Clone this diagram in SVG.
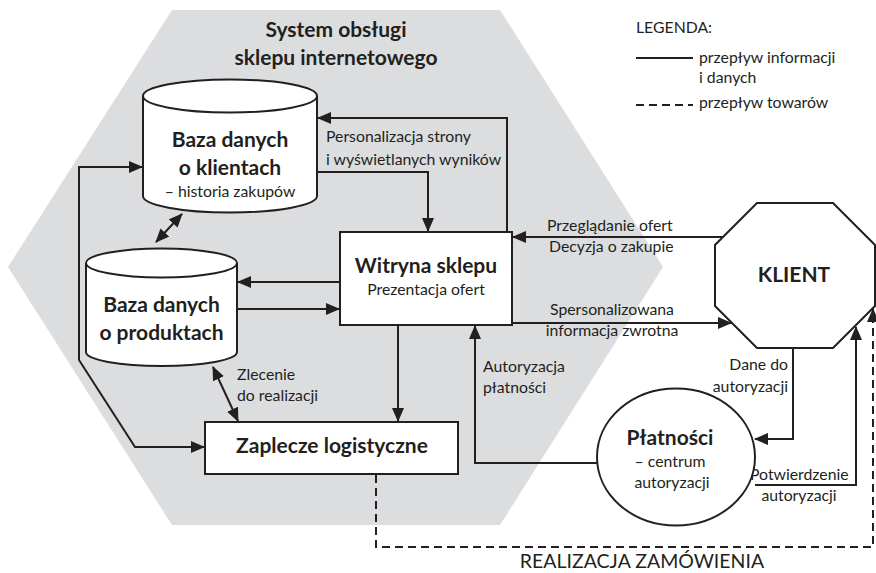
<svg xmlns="http://www.w3.org/2000/svg" width="876" height="573" viewBox="0 0 876 573">
  <defs>
    <marker id="ah" viewBox="0 0 14 12" refX="13" refY="6" markerWidth="14" markerHeight="12" markerUnits="userSpaceOnUse" orient="auto-start-reverse">
      <path d="M0,0 L14,6 L0,12 z" fill="#231f20"/>
    </marker>
  </defs>
  <style>
    text { font-family: Lato, "Open Sans", "Liberation Sans", sans-serif; fill: #231f20; }
    .b { font-weight: 700; font-size: 21px; }
    .r { font-size: 15.8px; }
    .shape { fill: #ffffff; stroke: #231f20; stroke-width: 2; }
    .ln { fill: none; stroke: #231f20; stroke-width: 2; }
    .dash { fill: none; stroke: #231f20; stroke-width: 2; stroke-dasharray: 8 5; }
    .mid { text-anchor: middle; }
    .end { text-anchor: end; }
  </style>

  <rect width="876" height="573" fill="#ffffff"/>

  <!-- system boundary -->
  <g id="system">
    <polygon points="172,10 500,10 663,267 500,525 172,525 8,267" fill="#dcdddf"/>
    <text class="b mid" x="336" y="37">System obsługi</text>
    <text class="b mid" x="336" y="65">sklepu internetowego</text>
  </g>

  <!-- legend -->
  <g id="legend">
    <text class="r" x="636" y="33">LEGENDA:</text>
    <line class="ln" x1="636" y1="58" x2="693" y2="58"/>
    <text class="r" x="699" y="63">przepływ informacji</text>
    <text class="r" x="699" y="83">i danych</text>
    <line class="dash" x1="636" y1="105" x2="693" y2="105" stroke-dasharray="6 4"/>
    <text class="r" x="699" y="108">przepływ towarów</text>
  </g>

  <!-- connectors -->
  <g id="connectors">
    <path class="ln" d="M507,232 V118 H318" marker-end="url(#ah)"/>
    <path class="ln" d="M317,172 H428 V231" marker-end="url(#ah)"/>
    <path class="ln" d="M724,237 H513" marker-end="url(#ah)"/>
    <path class="ln" d="M512,323 H731" marker-end="url(#ah)"/>
    <path class="ln" d="M340,282 H238" marker-end="url(#ah)"/>
    <path class="ln" d="M237,309 H339" marker-end="url(#ah)"/>
    <path class="ln" d="M398,325 V421" marker-end="url(#ah)"/>
    <path class="ln" d="M597,463 H475 V326" marker-end="url(#ah)"/>
    <path class="ln" d="M793,348 V439 H755" marker-end="url(#ah)"/>
    <path class="ln" d="M755,485 H856 V327" marker-end="url(#ah)"/>
    <path class="ln" d="M142,167 H79 V360 L135,447 H204" marker-start="url(#ah)" marker-end="url(#ah)"/>
    <path class="ln" d="M182,214 L156,242" marker-start="url(#ah)" marker-end="url(#ah)"/>
    <path class="ln" d="M213,367 L238,421" marker-start="url(#ah)" marker-end="url(#ah)"/>
    <path class="dash" d="M376,475 V547 H873 V309" marker-end="url(#ah)"/>

    <text class="r" x="326" y="142">Personalizacja strony</text>
    <text class="r" x="326" y="165">i wyświetlanych wyników</text>
    <text class="r" x="547" y="231">Przeglądanie ofert</text>
    <text class="r" x="549" y="252">Decyzja o zakupie</text>
    <text class="r mid" x="612" y="315">Spersonalizowana</text>
    <text class="r mid" x="612" y="336">informacja zwrotna</text>
    <text class="r" x="483" y="372">Autoryzacja</text>
    <text class="r" x="483" y="393">płatności</text>
    <text class="r end" x="788" y="370">Dane do</text>
    <text class="r end" x="788" y="392">autoryzacji</text>
    <text class="r" x="750" y="480">Potwierdzenie</text>
    <text class="r mid" x="799" y="501">autoryzacji</text>
    <text class="r" x="237" y="380">Zlecenie</text>
    <text class="r" x="237" y="401">do realizacji</text>
    <text class="mid" x="642" y="568" font-size="19.5">REALIZACJA ZAMÓWIENIA</text>
  </g>

  <!-- customer database -->
  <g id="db-klienci">
    <path class="shape" d="M143,96 V196 A87,16.5 0 0 0 317,196 V96 A87,16.5 0 0 0 143,96 z"/>
    <path class="ln" d="M143,96 A87,16.5 0 0 0 317,96"/>
    <text class="b mid" x="230" y="147">Baza danych</text>
    <text class="b mid" x="230" y="175">o klientach</text>
    <text class="r mid" x="230" y="197">– historia zakupów</text>
  </g>

  <!-- product database -->
  <g id="db-produkty">
    <path class="shape" d="M86,263 V352 A75.5,14 0 0 0 237,352 V263 A75.5,14.5 0 0 0 86,263 z"/>
    <path class="ln" d="M86,263 A75.5,14.5 0 0 0 237,263"/>
    <text class="b mid" x="161.5" y="312">Baza danych</text>
    <text class="b mid" x="161.5" y="340">o produktach</text>
  </g>

  <!-- shop front -->
  <g id="witryna">
    <rect class="shape" x="340" y="232" width="172" height="93"/>
    <text class="b mid" x="426" y="273">Witryna sklepu</text>
    <text class="r mid" x="426" y="295">Prezentacja ofert</text>
  </g>

  <!-- logistics -->
  <g id="zaplecze">
    <rect class="shape" x="205" y="422" width="253" height="52"/>
    <text class="b mid" x="332" y="453">Zaplecze logistyczne</text>
  </g>

  <!-- customer -->
  <g id="klient">
    <polygon class="shape" points="757,203 833,203 875,245 875,306 833,348 757,348 715,306 715,245"/>
    <text class="b mid" x="794" y="282" font-size="19.5">KLIENT</text>
  </g>

  <!-- payments -->
  <g id="platnosci">
    <ellipse class="shape" cx="676" cy="457" rx="79" ry="68.5"/>
    <text class="b mid" x="670" y="445">Płatności</text>
    <text class="r mid" x="670" y="467">– centrum</text>
    <text class="r mid" x="672" y="488">autoryzacji</text>
  </g>
</svg>
